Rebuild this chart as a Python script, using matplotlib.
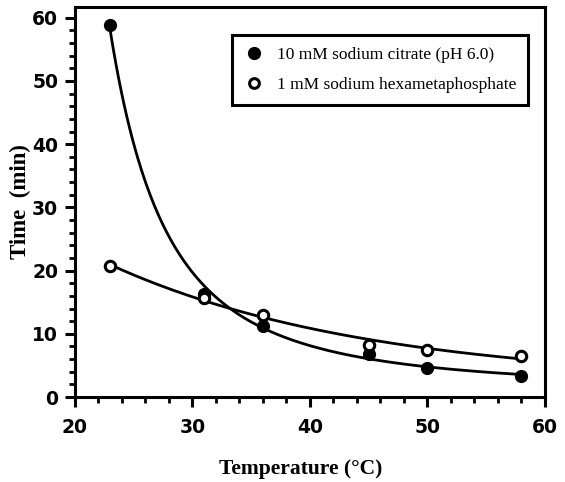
import numpy as np
import matplotlib
matplotlib.use("Agg")
import matplotlib.pyplot as plt
from matplotlib.ticker import MultipleLocator
from matplotlib.lines import Line2D

temps = [23, 31, 36, 45, 50, 58]
citrate = [58.8, 16.3, 11.2, 6.8, 4.6, 3.4]
hexameta = [20.7, 15.7, 12.9, 8.3, 7.5, 6.5]
label_citrate = "10 mM sodium citrate (pH 6.0)"
label_hexa = "1 mM sodium hexametaphosphate"


def exp_fit(x, y):
    x = np.asarray(x, float)
    y = np.asarray(y, float)
    best = None
    for b in np.linspace(0.01, 1.0, 2000):
        A = np.vstack([np.exp(-b * (x - x[0])), np.ones_like(x)]).T
        coef, *_ = np.linalg.lstsq(A, y, rcond=None)
        r = np.sum((A @ coef - y) ** 2)
        if best is None or r < best[0]:
            best = (r, b, coef)
    _, b, (a, c) = best
    return lambda t: a * np.exp(-b * (t - x[0])) + c


def arrhenius_fit(x, y):
    x = np.asarray(x, float)
    y = np.asarray(y, float)
    p = np.polyfit(1.0 / x, np.log(y), 1)
    return lambda t: np.exp(np.polyval(p, 1.0 / t))


serif = ["Liberation Serif", "DejaVu Serif"]
plt.rcParams["font.family"] = serif

fig = plt.figure(figsize=(5.65, 4.82), dpi=100)
ax = fig.add_axes([0.1327, 0.1763, 0.8319, 0.8092])

xs = np.linspace(min(temps), max(temps), 300)
f1 = arrhenius_fit(temps, citrate)
f2 = exp_fit(temps, hexameta)
ax.plot(xs, f1(xs), color="black", lw=2.0, zorder=2)
ax.plot(xs, f2(xs), color="black", lw=2.0, zorder=2)
ax.plot(temps, citrate, "o", color="black", ms=8.5, zorder=3)
ax.plot(temps, hexameta, "o", mfc="white", mec="black", mew=2.2, ms=7.5, zorder=4)

ax.set_xlim(20, 60)
ax.set_ylim(0, 61.7)
ax.xaxis.set_major_locator(MultipleLocator(10))
ax.xaxis.set_minor_locator(MultipleLocator(2))
ax.yaxis.set_major_locator(MultipleLocator(10))
ax.yaxis.set_minor_locator(MultipleLocator(2))
for s in ax.spines.values():
    s.set_linewidth(2.2)
ax.tick_params(axis="x", which="major", direction="out", length=7, width=2.2, pad=8)
ax.tick_params(axis="x", which="minor", direction="out", length=4, width=2.0)
ax.tick_params(axis="y", which="major", direction="out", length=7, width=2.2, pad=5)
ax.tick_params(axis="y", which="minor", direction="out", length=4, width=2.0)
for lab in ax.get_xticklabels() + ax.get_yticklabels():
    lab.set_fontfamily(["DejaVu Sans"])
    lab.set_fontweight("bold")
    lab.set_fontsize(13.5)

ax.set_xlabel("Temperature (°C)", fontsize=15.5, fontweight="bold", labelpad=16)
ax.xaxis.label.set_x(0.481)
ax.set_ylabel("Time  (min)", fontsize=16.5, fontweight="bold", labelpad=1)

handles = [
    Line2D([], [], marker="o", ls="none", color="black", ms=8.5),
    Line2D([], [], marker="o", ls="none", mfc="white", mec="black", mew=2.2, ms=7),
]
leg = ax.legend(handles, [label_citrate, label_hexa], loc="upper left",
                bbox_to_anchor=(0.315, 0.95), fontsize=12.5, frameon=True,
                fancybox=False, edgecolor="black", framealpha=1.0, borderpad=0.7,
                labelspacing=0.75, handletextpad=0.7, handlelength=1.2)
leg.get_frame().set_linewidth(2.2)

fig.savefig("out.png", dpi=100)
